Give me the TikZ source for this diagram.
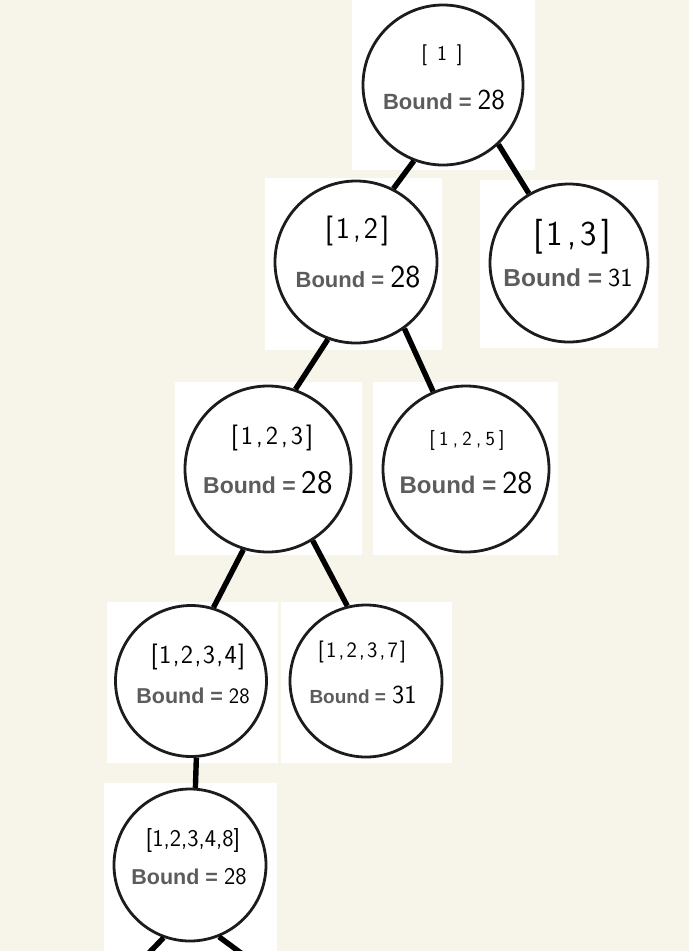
\documentclass[tikz,border=0pt]{standalone}
\usepackage{fontspec}
\setmainfont{Liberation Sans}
\definecolor{cream}{RGB}{247,245,233}
\definecolor{bgray}{RGB}{92,92,92}
\definecolor{ring}{RGB}{28,28,28}
\newlength\hwgap
\newcommand\gp{\hspace{\hwgap}}
\newcommand\hw[3]{{\setlength\hwgap{#2pt}\sffamily\fontsize{#1}{#1}\selectfont #3}}
\newcommand\bnd[3]{{\bfseries\fontsize{#1}{#1}\selectfont\color{bgray}Bound =}\hspace{6pt}\hw{#2}{0}{#3}}
\tikzset{
  panel/.style={fill=white},
  ball/.style={circle, draw=ring, line width=2.8pt, fill=white, inner sep=0pt},
  edge/.style={line width=5.4pt, black},
  txt/.style={inner sep=0pt, anchor=center}
}
\begin{document}
\begin{tikzpicture}[x=1pt, y=-1pt]
\useasboundingbox (0,0) rectangle (689,951);
\clip (0,0) rectangle (689,951);
\fill[cream] (0,0) rectangle (689,951);
% white panels
\fill[panel] (352,0) rectangle (535,170);
\fill[panel] (265,178) rectangle (442,350);
\fill[panel] (480,180) rectangle (658,348);
\fill[panel] (175,382) rectangle (362,555);
\fill[panel] (373,382) rectangle (558,555);
\fill[panel] (107,602) rectangle (278,763);
\fill[panel] (281,602) rectangle (452,763);
\fill[panel] (104,783) rectangle (277,951);
% circles
\node[ball, minimum size=160pt] (n1) at (443,85) {};
\node[ball, minimum size=162pt] (n12) at (356,262) {};
\node[ball, minimum size=158pt] (n13) at (569,263) {};
\node[ball, minimum size=166pt] (n123) at (268,469) {};
\node[ball, minimum size=166pt] (n125) at (466,469) {};
\node[ball, minimum size=151pt] (n1234) at (191,681) {};
\node[ball, minimum size=152pt] (n1237) at (366,681) {};
\node[ball, minimum size=152pt] (n12348) at (190,865) {};
\coordinate (c1) at (146,956);
\coordinate (c2) at (245,956);
% edges
\draw[edge] (n1.-111) -- (n12.63);
\draw[edge] (n1.-47) -- (n13.120);
\draw[edge] (n12.-110) -- (n123.71);
\draw[edge] (n12.-54) -- (n125.113);
\draw[edge] (n123.-107) -- (n1234.73);
\draw[edge] (n123.-58) -- (n1237.104);
\draw[edge] (n1234.-86) -- (n12348.86);
\draw[edge] (n12348.-110) -- (c1);
\draw[edge] (n12348.-68) -- (c2);
% texts
\node[txt] (t1) at (442,55) {\hw{21}{10}{[\gp1\gp]}};
\node[txt] (b1) at (444,100) {\bnd{22}{29}{28}};
\node[txt] (t12) at (357,231) {\hw{30}{3}{[\gp1\gp,\gp2\gp]}};
\node[txt] (b12) at (358,277) {\bnd{22}{32}{28}};
\node[txt] (t13) at (572,237) {\hw{35}{4}{[\gp1\gp,\gp3\gp]}};
\node[txt] (b13) at (568,278) {\bnd{24.5}{26}{31}};
\node[txt] (t123) at (272,438) {\hw{26}{3}{[\gp1\gp,\gp2\gp,\gp3\gp]}};
\node[txt] (b123) at (268,483) {\bnd{23}{33}{28}};
\node[txt] (t125) at (467,440) {\hw{20}{4.3}{[\gp1\gp,\gp2\gp,\gp5\gp]}};
\node[txt] (b125) at (466,483) {\bnd{24}{32}{28}};
\node[txt] (t1234) at (198,657) {\hw{26}{1.4}{[\gp1\gp,\gp2\gp,\gp3\gp,\gp4\gp]}};
\node[txt] (b1234) at (193,696) {\bnd{21.5}{22}{28}};
\node[txt] (t1237) at (362,652) {\hw{22}{2.2}{[\gp1\gp,\gp2\gp,\gp3\gp,\gp7\gp]}};
\node[txt] (b1237) at (363,695) {\bnd{19}{26}{31}};
\node[txt] (t12348) at (193,840) {\hw{24}{0}{[\gp1\gp,\gp2\gp,\gp3\gp,\gp4\gp,\gp8\gp]}};
\node[txt] (b12348) at (189,877) {\bnd{21.5}{24}{28}};
\end{tikzpicture}
\end{document}
